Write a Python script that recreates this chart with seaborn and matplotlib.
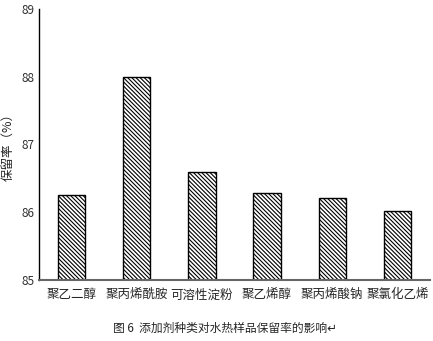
import matplotlib
matplotlib.use("Agg")
import matplotlib.pyplot as plt
import seaborn as sns
import pandas as pd
import numpy as np

categories = ["聚乙二醇", "聚丙烯酰胺", "可溶性淀粉", "聚乙烯醇", "聚丙烯酸钠", "聚氯化乙烯"]
values = [86.25, 88.0, 86.59, 86.28, 86.21, 86.02]
yticks = [85, 86, 87, 88, 89]
ylabel = "保留率（%）"
caption = "图 6  添加剂种类对水热样品保留率的影响↵"

sns.set_style("white")
plt.rcParams['font.family'] = ['Noto Sans CJK SC', 'DejaVu Sans']
plt.rcParams['hatch.linewidth'] = 0.8

df = pd.DataFrame({"cat": categories, "val": values})

fig = plt.figure(figsize=(4.33, 3.41), dpi=100)
ax = fig.add_axes([0.09, 0.179, 0.903, 0.795])
sns.barplot(data=df, x="cat", y="val", color="white", edgecolor="black",
            linewidth=1.0, width=0.42, hatch="\\" * 8, ax=ax)

ax.set_ylim(85, 89)
ax.set_xlim(-0.5, len(categories) - 0.5)
ax.set_yticks(yticks)
ax.set_yticklabels([f"{t}" for t in yticks], fontsize=8.5, color="#333333")
ax.tick_params(axis='y', direction='in', length=4, width=0.8, color="#555555", pad=3)
ax.tick_params(axis='x', length=0, labelsize=9, pad=6)
ax.set_xticks(np.arange(-0.5, len(categories) + 0.5, 1.0), minor=True)
ax.tick_params(axis='x', which='minor', direction='in', length=4, width=1.2, color="#777777")
ax.set_xlabel("")
ax.set_ylabel(ylabel, fontsize=9)
ax.yaxis.set_label_coords(-0.062, 0.5)

for s in ["top", "right"]:
    ax.spines[s].set_visible(False)
ax.spines["left"].set_color("black")
ax.spines["left"].set_linewidth(1.0)
ax.spines["bottom"].set_color("#666666")
ax.spines["bottom"].set_linewidth(1.5)

fig.text(0.52, 0.038, caption, ha="center", va="center", fontsize=8.5)

fig.savefig("out.png", dpi=100)
